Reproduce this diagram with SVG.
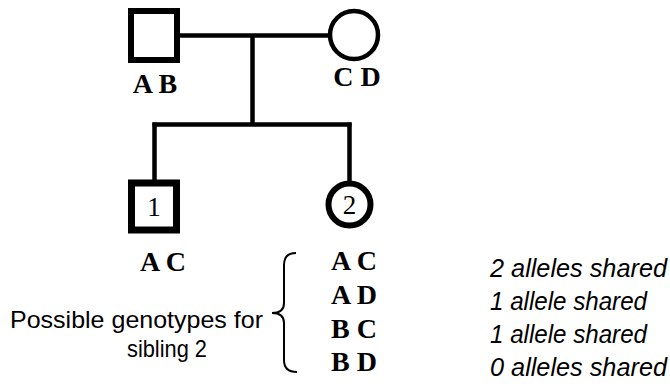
<svg xmlns="http://www.w3.org/2000/svg" width="670" height="390" viewBox="0 0 670 390">
  <style>
    .line { stroke: #000; stroke-width: 4.5; fill: none; }
    .shape { stroke: #000; fill: #fff; }
    .gt { font-family: "Liberation Serif", "Times New Roman", serif; font-weight: bold; font-size: 28px; text-anchor: middle; fill: #000; }
    .num { font-family: "Liberation Serif", "Times New Roman", serif; font-size: 27px; text-anchor: middle; fill: #000; }
    .lbl { font-family: "Liberation Sans", Arial, sans-serif; font-size: 24px; fill: #000; }
    .share { font-family: "Liberation Sans", Arial, sans-serif; font-style: italic; font-size: 25px; fill: #000; }
  </style>
  <rect width="670" height="390" fill="#fff"/>

  <!-- pedigree lines -->
  <g id="connectors">
    <line class="line" x1="178" y1="35.5" x2="331" y2="35.5"/>
    <line class="line" x1="252.5" y1="35.5" x2="252.5" y2="124.5"/>
    <line class="line" x1="152.5" y1="124.5" x2="351.5" y2="124.5"/>
    <line class="line" x1="154.5" y1="122.5" x2="154.5" y2="182"/>
    <line class="line" x1="349.5" y1="122.5" x2="349.5" y2="182"/>
  </g>

  <g id="father">
    <rect class="shape" x="131" y="11" width="46" height="49" stroke-width="6"/>
    <text class="gt" x="155" y="93">A B</text>
  </g>

  <g id="mother">
    <circle class="shape" cx="354" cy="35" r="24" stroke-width="4.5"/>
    <text class="gt" x="357" y="86">C D</text>
  </g>

  <g id="sibling1">
    <rect class="shape" x="131.5" y="183" width="45" height="47" stroke-width="7"/>
    <text class="num" x="154" y="216">1</text>
    <text class="gt" x="163" y="271">A C</text>
  </g>

  <g id="sibling2">
    <circle class="shape" cx="349.5" cy="204.5" r="21" stroke-width="6"/>
    <text class="num" x="349.5" y="214">2</text>
  </g>

  <g id="genotypes">
    <path d="M296,253 Q284,253 284,265 L284,303 Q284,313 272,313 Q284,313 284,323 L284,360 Q284,372 297,372" fill="none" stroke="#000" stroke-width="2"/>
    <text class="lbl" x="10" y="328" textLength="253" lengthAdjust="spacingAndGlyphs">Possible genotypes for</text>
    <text class="lbl" x="127" y="357" textLength="80" lengthAdjust="spacingAndGlyphs">sibling 2</text>
    <text class="gt" x="354" y="270">A C</text>
    <text class="gt" x="354" y="304">A D</text>
    <text class="gt" x="354" y="338">B C</text>
    <text class="gt" x="354" y="371">B D</text>
  </g>

  <g id="sharing">
    <text class="share" x="490" y="277" textLength="177" lengthAdjust="spacingAndGlyphs">2 alleles shared</text>
    <text class="share" x="490" y="310" textLength="157" lengthAdjust="spacingAndGlyphs">1 allele shared</text>
    <text class="share" x="490" y="343" textLength="157" lengthAdjust="spacingAndGlyphs">1 allele shared</text>
    <text class="share" x="490" y="376" textLength="177" lengthAdjust="spacingAndGlyphs">0 alleles shared</text>
  </g>
</svg>
